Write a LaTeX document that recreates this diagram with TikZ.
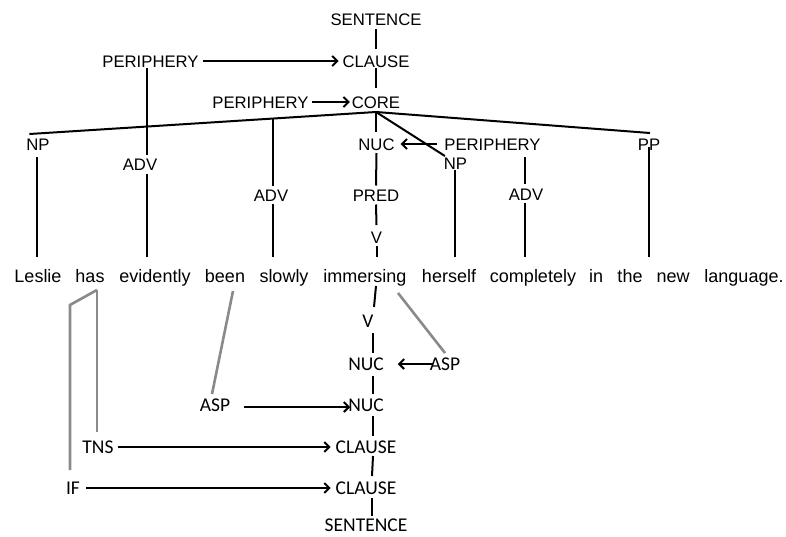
\documentclass[tikz,border=0pt]{standalone}
\usepackage{fontspec}
\setmainfont{Liberation Sans}
\newfontfamily\calib{Carlito}
\usetikzlibrary{arrows.meta,calc}
\definecolor{lg}{HTML}{8A8A8A}
\begin{document}
\begin{tikzpicture}[x=1pt,y=1pt,
 lab/.style={inner sep=0pt,outer sep=0pt,text height=12pt,text depth=0pt,font=\fontsize{16.7}{18}\selectfont},
 wrd/.style={inner sep=0pt,outer sep=0pt,text height=12.9pt,text depth=0pt,font=\fontsize{18}{20}\selectfont},
 blab/.style={inner sep=0pt,outer sep=0pt,text height=12.6pt,text depth=0pt,font=\calib\fontsize{19.5}{22}\selectfont},
 ln/.style={line width=2pt},
 arr/.style={ln,-{Straight Barb[length=5pt,width=10pt]}},
 gl/.style={line width=2.6pt,draw=lg},
]
\useasboundingbox (0,0) rectangle (786,-536);
% top labels
\node[lab] (sT) at (376,-19.5) {SENTENCE};
\node[lab] (cl) at (376,-61) {CLAUSE};
\node[lab] (perA) at (150.5,-61) {PERIPHERY};
\node[lab] (core) at (376,-102) {CORE};
\node[lab] (perB) at (260.5,-102) {PERIPHERY};
\node[lab] (np1) at (38,-144) {NP};
\node[lab] (adv1) at (140,-164) {ADV};
\node[lab] (adv2) at (271,-195) {ADV};
\node[lab] (nuc) at (376.5,-144) {NUC};
\node[lab] (pred) at (376,-195) {PRED};
\node[lab] (v1) at (376.5,-237) {V};
\node[lab] (perC) at (492.5,-144) {PERIPHERY};
\node[lab] (np2) at (455.5,-163) {NP};
\node[lab] (adv3) at (526,-194) {ADV};
\node[lab] (pp) at (649,-144) {PP};
% sentence
\node[wrd] (w1) at (38,-276) {Leslie};
\node[wrd] (w2) at (90,-276) {has};
\node[wrd] (w3) at (155,-276) {evidently};
\node[wrd] (w4) at (225,-276) {been};
\node[wrd] (w5) at (284,-276) {slowly};
\node[wrd] (w6) at (365,-276) {immersing};
\node[wrd] (w7) at (449,-276) {herself};
\node[wrd] (w8) at (533,-276) {completely};
\node[wrd] (w9) at (596,-276) {in};
\node[wrd] (w10) at (630,-276) {the};
\node[wrd] (w11) at (673,-276) {new};
\node[wrd] (w12) at (744,-276) {language.};
% bottom labels
\node[blab] (v2) at (368,-321) {V};
\node[blab] (nucA) at (366,-364) {NUC};
\node[blab] (aspR) at (445,-364) {ASP};
\node[blab] (nucB) at (366,-405) {NUC};
\node[blab] (aspL) at (215,-405) {ASP};
\node[blab] (clA) at (366,-447) {CLAUSE};
\node[blab] (tns) at (98,-447) {TNS};
\node[blab] (clB) at (366,-488) {CLAUSE};
\node[blab] (ifn) at (73,-488) {IF};
\node[blab] (sB) at (366,-525) {SENTENCE};
% top connectors
\draw[ln] ($(sT.south)+(0,-3.5)$) -- ($(cl.north)+(0,6)$);
\draw[ln] ($(cl.south)+(0,-1)$) -- ($(core.north)+(0,8)$);
\draw[arr] ($(perA.east)+(4,0)$) -- ($(cl.west)+(-4,0)$);
\draw[arr] ($(perB.east)+(3.5,0)$) -- ($(core.west)+(-2,0)$);
\coordinate (cj) at ($(core.south)+(0,-4)$);
\draw[ln] (cj) -- coordinate[pos=0.2986] (j2) ($(np1.north west)+(3,4)$);
\draw[ln] (cj) -- ($(pp.north)+(1,5)$);
\draw[ln] (cj) -- ($(np2.north west)+(1,1)$);
\draw[ln] (cj) -- ($(cj |- nuc.north)+(0,6)$);
\draw[arr] ($(perC.west)+(-7,0)$) -- ($(nuc.east)+(6,0)$);
\draw[ln] ($(nuc.south)+(0,-3)$) -- ($(pred.north)+(0,3.5)$);
\draw[ln] ($(pred.south)+(0,-3.5)$) -- ($(v1.north)+(0,6)$);
\draw[ln] ($(v1.south)+(0,-3)$) -- ($(v1.south |- w6.north)+(0,12.5)$);
\draw[ln] ($(perA.south)+(-3.5,-1)$) -- ($(perA.south |- adv1.north)+(-3.5,3)$);
\draw[ln] ($(perA.south |- adv1.south)+(-3.5,-4)$) -- ($(perA.south |- w3.north)+(-3.5,12.5)$);
\draw[ln] (j2) -- ($(j2 |- adv2.north)+(0,3)$);
\draw[ln] ($(j2 |- adv2.south)+(0,-3)$) -- ($(j2 |- w5.north)+(0,12.5)$);
\draw[ln] ($(np1.south)+(-1,-7)$) -- ($(np1.south |- w1.north)+(-1,12.5)$);
\draw[ln] ($(adv3.north |- perC.south)+(-1,-7)$) -- ($(adv3.north)+(-1,4)$);
\draw[ln] ($(adv3.south)+(-1,-3)$) -- ($(adv3.south |- w8.north)+(-1,12.5)$);
\draw[ln] ($(np2.south)+(-0.5,-1)$) -- ($(np2.south |- w7.north)+(-0.5,12.5)$);
\draw[ln] ($(pp.south)+(0,3)$) -- ($(pp.south |- w10.north)+(0,12.5)$);
% bottom connectors
\draw[ln] ($(w6.south)+(11,-3.5)$) -- ($(v2.north)+(6,7.7)$);
\draw[ln] ($(v2.south)+(5,-5.7)$) -- ($(nucA.north)+(7,4.7)$);
\draw[arr] ($(aspR.west)+(3,0)$) -- ($(nucA.east)+(14,0)$);
\draw[gl] ($(w6.south)+(33,-10.5)$) -- ($(aspR.north)+(0,4.7)$);
\draw[ln] ($(nucA.south)+(7,-5.7)$) -- ($(nucB.north)+(7,4.7)$);
\draw[arr] ($(aspL.east)+(14,-2)$) -- ($(nucB.west)+(2,-2)$);
\draw[gl] ($(w4.south)+(8,-8.5)$) -- ($(aspL.north)+(-3,4.7)$);
\draw[ln] ($(nucB.south)+(7,-4.7)$) -- ($(clA.north)+(7,4.7)$);
\draw[arr] ($(tns.east)+(4.5,0)$) -- ($(clA.west)+(-5,0)$);
\draw[ln] ($(clA.south)+(7,-2.7)$) -- ($(clB.north)+(6,5.7)$);
\draw[arr] ($(ifn.east)+(6,0)$) -- ($(clB.west)+(-5,0)$);
\draw[ln] ($(clB.south)+(6,-3.7)$) -- ($(sB.north)+(6,3)$);
\draw[gl] ($(w2.south)+(7,-7.5)$) -- ($(tns.north)+(-1,8.7)$);
\draw[gl] ($(w2.south)+(7,-7.5)$) -- ($(ifn.north |- w2.south)+(-3,-22.5)$) -- ($(ifn.north)+(-3,11.7)$);
\end{tikzpicture}
\end{document}
